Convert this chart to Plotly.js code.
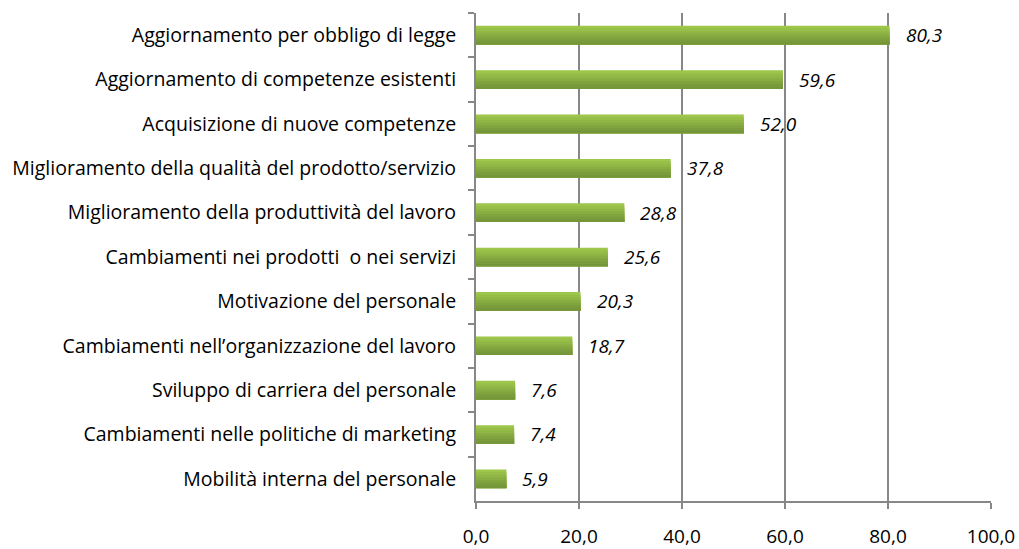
<!DOCTYPE html>
<html>
<head>
<meta charset="utf-8">
<script src="https://cdn.plot.ly/plotly-3.0.1.min.js"></script>
<style>
  html, body { margin: 0; padding: 0; background: #fff; }
  #chart { width: 1019px; height: 549px; }
</style>
</head>
<body>
<div id="chart"></div>
<script>
const categories = [
    'Aggiornamento per obbligo di legge',
    'Aggiornamento di competenze esistenti',
    'Acquisizione di nuove competenze',
    'Miglioramento della qualità del prodotto/servizio',
    'Miglioramento della produttività del lavoro',
    'Cambiamenti nei prodotti  o nei servizi',
    'Motivazione del personale',
    'Cambiamenti nell\u2019organizzazione del lavoro',
    'Sviluppo di carriera del personale',
    'Cambiamenti nelle politiche di marketing',
    'Mobilità interna del personale'
];
const values = [80.3, 59.6, 52.0, 37.8, 28.8, 25.6, 20.3, 18.7, 7.6, 7.4, 5.9];
const xTicks = [0, 20, 40, 60, 80, 100];

// bar shading, light at the top to dark at the bottom
const shades = ['#9dc64b', '#97be48', '#90b645', '#89ad42', '#82a43f', '#7b9c3c', '#76963a'];

const fontFamily = '"Open Sans", sans-serif';
const barWidth = 0.42;
const step = barWidth / shades.length;

// each band runs from its own top edge down to the bar bottom,
// the next one is painted over it -> no seams between bands
const traces = shades.map((c, k) => ({
    type: 'bar',
    orientation: 'h',
    x: values,
    y: categories,
    width: barWidth - k * step,
    offset: -barWidth / 2 + k * step,
    marker: { color: c, line: { width: 0 } },
    hoverinfo: 'x+y'
}));

// italic value labels to the right of each bar
const labels = values.map((v, i) => ({
    x: v,
    y: categories[i],
    xref: 'x',
    yref: 'y',
    text: '<i>' + v.toFixed(1).replace('.', ',') + '</i>',
    showarrow: false,
    xanchor: 'left',
    xshift: 14,
    font: { family: fontFamily, size: 19, color: '#000' }
}));

const layout = {
    width: 1019,
    height: 549,
    margin: { l: 476, r: 28, t: 13, b: 48 },
    paper_bgcolor: '#fff',
    plot_bgcolor: '#fff',
    barmode: 'overlay',
    showlegend: false,
    separators: ',.',
    font: { family: fontFamily, size: 19.5, color: '#000' },
    xaxis: {
        range: [0, 100],
        tickvals: xTicks,
        tickformat: '.1f',
        tickfont: { size: 19 },
        showgrid: true,
        gridcolor: '#878787',
        gridwidth: 2,
        zeroline: false,
        showline: true,
        linecolor: '#878787',
        linewidth: 2,
        ticks: 'outside',
        ticklen: 6,
        tickwidth: 2,
        tickcolor: '#878787',
        ticklabelstandoff: 11,
        fixedrange: true
    },
    yaxis: {
        autorange: 'reversed',
        type: 'category',
        showgrid: false,
        showline: true,
        linecolor: '#878787',
        linewidth: 2,
        ticks: 'outside',
        tickson: 'boundaries',
        ticklen: 6,
        tickwidth: 2,
        tickcolor: '#878787',
        ticklabelstandoff: 14,
        fixedrange: true
    },
    annotations: labels
};

Plotly.newPlot('chart', traces, layout, { displayModeBar: false, staticPlot: true });
</script>
</body>
</html>
